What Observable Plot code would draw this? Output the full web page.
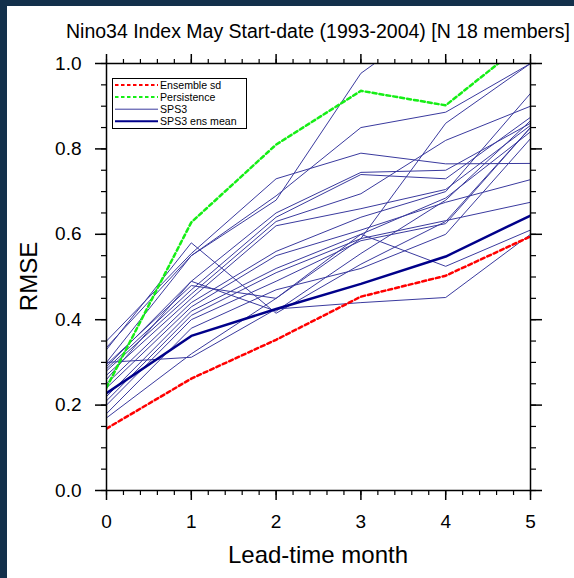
<!DOCTYPE html>
<html>
<head>
<meta charset="utf-8">
<script src="https://cdn.jsdelivr.net/npm/d3@7"></script>
<script src="https://cdn.jsdelivr.net/npm/@observablehq/plot@0.6"></script>
<style>
  html, body { margin: 0; padding: 0; background: #13304b; width: 574px; height: 578px; overflow: hidden; }
  #panel { position: absolute; left: 7px; top: 6px; width: 567px; height: 572px; background: #ffffff; }
  #chart { position: absolute; left: 0; top: 0; }
</style>
</head>
<body>
<div id="panel"></div>
<div id="chart"></div>
<script>
// ---- data ----
const titleText = "Nino34 Index May Start-date (1993-2004) [N 18 members]";
const xLabel = "Lead-time month";
const yLabel = "RMSE";
const leads = [0, 1, 2, 3, 4, 5];
const xTicks = [0, 1, 2, 3, 4, 5];
const yTicks = [0, 0.2, 0.4, 0.6, 0.8, 1.0];
const ensSd = [0.145, 0.262, 0.353, 0.454, 0.503, 0.595];
const persistence = [0.241, 0.628, 0.81, 0.936, 0.902, 1.06];
const ensMean = [0.228, 0.362, 0.425, 0.484, 0.548, 0.644];
const members = [
  [0.30, 0.55, 0.68, 0.977, 1.12, 1.25],
  [0.33, 0.58, 0.415, 0.53, 0.63, 0.85],
  [0.30, 0.312, 0.425, 0.44, 0.452, 0.60],
  [0.26, 0.49, 0.42, 0.555, 0.68, 0.866],
  [0.35, 0.555, 0.73, 0.79, 0.765, 0.766],
  [0.335, 0.55, 0.69, 0.85, 0.886, 1.0],
  [0.29, 0.49, 0.65, 0.745, 0.75, 0.86],
  [0.285, 0.47, 0.64, 0.74, 0.73, 0.874],
  [0.28, 0.46, 0.63, 0.695, 0.82, 0.90],
  [0.27, 0.45, 0.62, 0.66, 0.705, 0.855],
  [0.25, 0.44, 0.56, 0.64, 0.70, 0.93],
  [0.24, 0.43, 0.55, 0.61, 0.675, 0.728],
  [0.22, 0.42, 0.52, 0.60, 0.685, 0.84],
  [0.21, 0.41, 0.51, 0.59, 0.632, 0.675],
  [0.20, 0.40, 0.49, 0.585, 0.625, 0.85],
  [0.18, 0.38, 0.47, 0.52, 0.60, 0.824],
  [0.17, 0.32, 0.45, 0.59, 0.86, 1.0],
  [0.295, 0.48, 0.45, 0.60, 0.525, 0.61]
];
const legendLabels = ["Ensemble sd", "Persistence", "SPS3", "SPS3 ens mean"];

// ---- build tables ----
const toRows = (vals, name) => vals.map((v, i) => ({lead: leads[i], rmse: v, series: name}));
const memberRows = members.flatMap((m, k) => toRows(m, "m" + k));
const sdRows = toRows(ensSd, "sd");
const perRows = toRows(persistence, "per");
const meanRows = toRows(ensMean, "mean");

const minorX = d3.range(0, 5.0001, 0.2).map(v => +v.toFixed(2));
const minorY = d3.range(0, 1.0001, 0.05).map(v => +v.toFixed(2));

const font = "'Liberation Sans', Arial, Helvetica, sans-serif";
const memberColor = "#3a3a9e";
const meanColor = "#00008a";
const sdColor = "#ff0000";
const perColor = "#16ee16";

const W = 574, H = 578, mL = 106, mR = 44, mT = 63, mB = 88;

const chart = Plot.plot({
  width: W,
  height: H,
  marginLeft: mL,
  marginRight: mR,
  marginTop: mT,
  marginBottom: mB,
  x: {domain: [0, 5]},
  y: {domain: [0, 1]},
  style: {background: "transparent", fontFamily: font, color: "black", overflow: "visible"},
  marks: [
    Plot.line(memberRows, {x: "lead", y: "rmse", z: "series", stroke: memberColor, strokeWidth: 1, clip: true}),
    Plot.line(sdRows, {x: "lead", y: "rmse", stroke: sdColor, strokeWidth: 2.5, strokeDasharray: "4,3", clip: true}),
    Plot.line(perRows, {x: "lead", y: "rmse", stroke: perColor, strokeWidth: 2.5, strokeDasharray: "4,3", clip: true}),
    Plot.line(meanRows, {x: "lead", y: "rmse", stroke: meanColor, strokeWidth: 2.5, clip: true}),
    Plot.frame({stroke: "black", strokeWidth: 1.5}),
    Plot.axisX({anchor: "bottom", ticks: xTicks, tickSize: 10, tickPadding: 14, tickFormat: d3.format("d"), fontSize: 19, label: null, strokeWidth: 1.5}),
    Plot.axisX({anchor: "bottom", ticks: minorX, tickSize: 5, text: null, label: null, strokeWidth: 1.2}),
    Plot.axisX({anchor: "top", ticks: xTicks, tickSize: 10, text: null, label: null, strokeWidth: 1.5}),
    Plot.axisX({anchor: "top", ticks: minorX, tickSize: 5, text: null, label: null, strokeWidth: 1.2}),
    Plot.axisY({anchor: "left", ticks: yTicks, tickSize: 11, tickPadding: 14, tickFormat: d3.format(".1f"), fontSize: 19, label: null, strokeWidth: 1.5}),
    Plot.axisY({anchor: "left", ticks: minorY, tickSize: 5, text: null, label: null, strokeWidth: 1.2}),
    Plot.axisY({anchor: "right", ticks: yTicks, tickSize: 11, text: null, label: null, strokeWidth: 1.5}),
    Plot.axisY({anchor: "right", ticks: minorY, tickSize: 5, text: null, label: null, strokeWidth: 1.2})
  ]
});
document.getElementById("chart").appendChild(chart);

const svg = d3.select(chart);
const cx = (mL + (W - mR)) / 2;
const cy = (mT + (H - mB)) / 2;

// ---- title and axis labels ----
const labels = svg.append("g").attr("font-family", font).attr("fill", "black").attr("text-anchor", "middle");
labels.append("text").attr("x", cx).attr("y", 31).attr("dy", "0.35em").attr("font-size", 19.5).text(titleText);
labels.append("text").attr("x", cx).attr("y", 555).attr("dy", "0.35em").attr("font-size", 24).text(xLabel);
labels.append("text").attr("transform", `translate(29,${cy}) rotate(-90)`).attr("dy", "0.35em").attr("font-size", 24).text(yLabel);

// ---- legend (inside plot area, top-left) ----
const lg = svg.append("g").attr("font-family", font).attr("font-size", 10.6).attr("text-anchor", "start");
lg.append("rect").attr("x", 112.5).attr("y", 78.5).attr("width", 134).attr("height", 50)
  .attr("fill", "white").attr("stroke", "black").attr("stroke-width", 1);
const legendStyles = [
  {stroke: sdColor, width: 2, dash: "3.5,2.5"},
  {stroke: perColor, width: 2, dash: "3.5,2.5"},
  {stroke: memberColor, width: 1, dash: null},
  {stroke: meanColor, width: 2, dash: null}
];
legendLabels.forEach((lab, i) => {
  const y = 85 + i * 12.1;
  const s = legendStyles[i];
  lg.append("line").attr("x1", 115).attr("x2", 158).attr("y1", y).attr("y2", y)
    .attr("stroke", s.stroke).attr("stroke-width", s.width).attr("stroke-dasharray", s.dash);
  lg.append("text").attr("x", 160).attr("y", y).attr("dy", "0.35em").attr("fill", "black").text(lab);
});
</script>
</body>
</html>
